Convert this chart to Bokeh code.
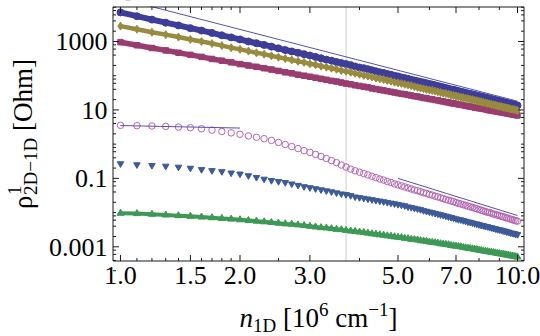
import numpy as np
from bokeh.plotting import figure
from bokeh.models import Range1d
from bokeh.core.properties import value
from bokeh.embed import file_html
from bokeh.resources import INLINE

# ---------------------------------------------------------------- data
# 1D carrier density n_1D in units of 1e6 cm^-1
n1d = [1.0, 1.1, 1.2, 1.3, 1.4, 1.5, 1.6, 1.7, 1.8, 1.9,
       2.0, 2.1, 2.2, 2.3, 2.4, 2.5, 2.6, 2.7, 2.8, 2.9,
       3.0, 3.1, 3.2, 3.3, 3.4, 3.5, 3.6, 3.7, 3.8, 3.9,
       4.0, 4.1, 4.2, 4.3, 4.4, 4.5, 4.6, 4.7, 4.8, 4.9,
       5.0, 5.1, 5.2, 5.3, 5.4, 5.5, 5.6, 5.7, 5.8, 5.9,
       6.0, 6.1, 6.2, 6.3, 6.4, 6.5, 6.6, 6.7, 6.8, 6.9,
       7.0, 7.1, 7.2, 7.3, 7.4, 7.5, 7.6, 7.7, 7.8, 7.9,
       8.0, 8.1, 8.2, 8.3, 8.4, 8.5, 8.6, 8.7, 8.8, 8.9,
       9.0, 9.1, 9.2, 9.3, 9.4, 9.5, 9.6, 9.7, 9.8, 9.9,
       10.0]

# log10 of rho^1_{2D-1D} [Ohm], one list per curve
log_rho_circle = [3.85, 3.74, 3.64, 3.55, 3.47, 3.39, 3.32, 3.25, 3.18, 3.12,
                  3.06, 3.00, 2.95, 2.90, 2.85, 2.80, 2.75, 2.71, 2.67, 2.63,
                  2.59, 2.55, 2.51, 2.47, 2.44, 2.40, 2.37, 2.34, 2.31, 2.27,
                  2.24, 2.22, 2.19, 2.16, 2.13, 2.10, 2.08, 2.05, 2.03, 2.00,
                  1.98, 1.95, 1.93, 1.91, 1.88, 1.86, 1.84, 1.82, 1.80, 1.78,
                  1.76, 1.74, 1.72, 1.70, 1.68, 1.66, 1.64, 1.62, 1.60, 1.59,
                  1.57, 1.55, 1.53, 1.52, 1.50, 1.48, 1.47, 1.45, 1.44, 1.42,
                  1.41, 1.39, 1.38, 1.36, 1.35, 1.33, 1.32, 1.30, 1.29, 1.27,
                  1.26, 1.25, 1.23, 1.22, 1.21, 1.19, 1.18, 1.17, 1.16, 1.14,
                  1.13]

log_rho_square = [2.98, 2.89, 2.81, 2.74, 2.67, 2.61, 2.55, 2.49, 2.44, 2.39,
                  2.34, 2.30, 2.26, 2.22, 2.18, 2.14, 2.10, 2.07, 2.03, 2.00,
                  1.97, 1.94, 1.91, 1.88, 1.85, 1.83, 1.80, 1.77, 1.75, 1.72,
                  1.70, 1.68, 1.66, 1.63, 1.61, 1.59, 1.57, 1.55, 1.53, 1.51,
                  1.49, 1.47, 1.46, 1.44, 1.42, 1.40, 1.39, 1.37, 1.35, 1.34,
                  1.32, 1.31, 1.29, 1.28, 1.26, 1.25, 1.23, 1.22, 1.20, 1.19,
                  1.18, 1.16, 1.15, 1.14, 1.12, 1.11, 1.10, 1.09, 1.07, 1.06,
                  1.05, 1.04, 1.03, 1.02, 1.00, 0.99, 0.98, 0.97, 0.96, 0.95,
                  0.94, 0.93, 0.92, 0.91, 0.90, 0.89, 0.88, 0.87, 0.86, 0.85,
                  0.84]

log_rho_diamond = [3.45, 3.36, 3.27, 3.20, 3.13, 3.06, 3.00, 2.94, 2.88, 2.82,
                   2.77, 2.72, 2.67, 2.63, 2.58, 2.54, 2.50, 2.46, 2.42, 2.39,
                   2.35, 2.32, 2.28, 2.25, 2.22, 2.19, 2.15, 2.13, 2.10, 2.07,
                   2.04, 2.01, 1.99, 1.96, 1.93, 1.91, 1.89, 1.86, 1.84, 1.81,
                   1.79, 1.77, 1.75, 1.73, 1.71, 1.68, 1.66, 1.64, 1.62, 1.60,
                   1.58, 1.57, 1.55, 1.53, 1.51, 1.49, 1.48, 1.46, 1.44, 1.42,
                   1.41, 1.39, 1.37, 1.36, 1.34, 1.33, 1.31, 1.30, 1.28, 1.27,
                   1.25, 1.24, 1.22, 1.21, 1.19, 1.18, 1.16, 1.15, 1.14, 1.12,
                   1.11, 1.10, 1.08, 1.07, 1.06, 1.05, 1.03, 1.02, 1.01, 1.00,
                   0.98]

log_rho_tri_up = [-2.02, -2.03, -2.05, -2.07, -2.09, -2.11, -2.13, -2.15, -2.17, -2.19,
                  -2.21, -2.23, -2.25, -2.27, -2.29, -2.31, -2.33, -2.34, -2.36, -2.38,
                  -2.40, -2.42, -2.44, -2.45, -2.47, -2.49, -2.50, -2.52, -2.54, -2.55,
                  -2.57, -2.58, -2.60, -2.62, -2.63, -2.65, -2.66, -2.68, -2.69, -2.71,
                  -2.72, -2.73, -2.75, -2.76, -2.78, -2.79, -2.80, -2.82, -2.83, -2.84,
                  -2.86, -2.87, -2.88, -2.89, -2.91, -2.92, -2.93, -2.94, -2.96, -2.97,
                  -2.98, -2.99, -3.00, -3.02, -3.03, -3.04, -3.05, -3.06, -3.07, -3.08,
                  -3.10, -3.11, -3.12, -3.13, -3.14, -3.15, -3.16, -3.17, -3.18, -3.19,
                  -3.20, -3.21, -3.22, -3.23, -3.24, -3.25, -3.26, -3.27, -3.28, -3.29,
                  -3.30]

log_rho_tri_down = [-0.57, -0.60, -0.62, -0.64, -0.67, -0.70, -0.74, -0.77, -0.80, -0.84,
                    -0.87, -0.92, -0.97, -1.02, -1.06, -1.09, -1.12, -1.16, -1.20, -1.24,
                    -1.27, -1.30, -1.33, -1.36, -1.39, -1.42, -1.45, -1.47, -1.50, -1.54,
                    -1.56, -1.58, -1.60, -1.62, -1.64, -1.66, -1.68, -1.70, -1.72, -1.74,
                    -1.76, -1.78, -1.80, -1.83, -1.85, -1.87, -1.89, -1.91, -1.94, -1.96,
                    -1.98, -2.00, -2.02, -2.04, -2.06, -2.08, -2.10, -2.12, -2.14, -2.16,
                    -2.18, -2.20, -2.21, -2.23, -2.25, -2.27, -2.28, -2.30, -2.32, -2.33,
                    -2.35, -2.37, -2.38, -2.40, -2.41, -2.43, -2.44, -2.46, -2.47, -2.49,
                    -2.50, -2.51, -2.53, -2.54, -2.56, -2.57, -2.59, -2.60, -2.61, -2.63,
                    -2.64]

log_rho_open = [0.55, 0.54, 0.53, 0.52, 0.50, 0.48, 0.45, 0.41, 0.37, 0.33,
                0.29, 0.24, 0.20, 0.16, 0.11, 0.05, -0.01, -0.07, -0.13, -0.19,
                -0.24, -0.30, -0.36, -0.42, -0.48, -0.54, -0.61, -0.67, -0.73, -0.78,
                -0.82, -0.86, -0.90, -0.94, -0.98, -1.02, -1.05, -1.09, -1.12, -1.16,
                -1.19, -1.22, -1.25, -1.28, -1.31, -1.34, -1.36, -1.39, -1.42, -1.44,
                -1.47, -1.49, -1.52, -1.54, -1.57, -1.59, -1.62, -1.64, -1.66, -1.68,
                -1.71, -1.73, -1.75, -1.77, -1.79, -1.81, -1.83, -1.85, -1.87, -1.89,
                -1.91, -1.93, -1.95, -1.97, -1.99, -2.00, -2.02, -2.04, -2.06, -2.07,
                -2.09, -2.11, -2.12, -2.14, -2.16, -2.17, -2.19, -2.21, -2.22, -2.24,
                -2.25]

# straight guide lines (end points) and the marked density
guide_high_x = [1.0, 10.0]
guide_high_y = [18000.0, 18.0]
guide_flat_x = [1.0, 2.0]
guide_flat_y = [3.5, 2.95]
guide_tail_x = [5.0, 10.0]
guide_tail_y = [0.1, 0.0082]
marked_n1d = 3.7

# ticks
x_major = [1.0, 1.5, 2.0, 3.0, 5.0, 7.0, 10.0]
x_major_labels = ["1.0", "1.5", "2.0", "3.0", "5.0", "7.0", "10.0"]
x_minor = [1.1, 1.2, 1.3, 1.4, 1.6, 1.7, 1.8, 1.9, 2.5, 4.0, 6.0, 8.0, 9.0]
y_major = [0.001, 0.1, 10.0, 1000.0]
y_major_labels = ["0.001", "0.1", "10", "1000"]
y_minor = [0.01, 1.0, 100.0, 10000.0] + [m * 10.0 ** e for e in range(-4, 4) for m in (2, 4, 6, 8)]

# ---------------------------------------------------------------- geometry
W, H = 540, 336
FL, FT, FW, FH = 112, 6, 412, 255          # plotting frame inside the canvas
FR, FB = FL + FW, FT + FH
X_LO, X_HI = 0.9547, 10.414
Y_LO, Y_HI = 3.72e-4, 1.054e4
LX0, LX1 = np.log10(X_LO), np.log10(X_HI)
LY0, LY1 = np.log10(Y_LO), np.log10(Y_HI)
# text glyphs sit with their baseline this fraction of the font size below the anchor
BASE_SHIFT = 0.33


def data_x(sx):
    return float(10 ** (LX0 + (sx - FL) / FW * (LX1 - LX0)))


def data_y(sy):
    return float(10 ** (LY1 - (sy - FT) / FH * (LY1 - LY0)))


def px_y(v):
    return FT + (LY1 - np.log10(v)) / (LY1 - LY0) * FH


SERIF = "Liberation Serif"
C_CIRCLE = "#3e3d99"
C_SQUARE = "#993d71"
C_DIAMOND = "#998b3d"
C_TRI_UP = "#3d9955"
C_TRI_DOWN = "#3d5a99"
C_OPEN = "#b465b2"
C_GUIDE = "#5252b4"
C_AXIS = "#1a1a1a"

# the canvas itself is the data area; the frame and its ticks are drawn inside it
p = figure(width=W, height=H, x_axis_type="log", y_axis_type="log",
           x_range=Range1d(data_x(0), data_x(W)), y_range=Range1d(data_y(H), data_y(0)),
           x_axis_location=None, y_axis_location=None,
           min_border=0, output_backend="svg", toolbar_location=None)
p.background_fill_color = "white"
p.border_fill_color = "white"
p.outline_line_color = None
p.grid.visible = False

# vertical marker behind the data
p.segment(x0=[marked_n1d], y0=[data_y(FB)], x1=[marked_n1d], y1=[data_y(FT)],
          line_color="#cdcdcd", line_width=1)

x = np.array(n1d)


def rho(logs):
    return 10.0 ** np.asarray(logs)


# dense curves: a thick band plus the markers on it
p.line(x, rho(log_rho_circle), line_color=C_CIRCLE, line_width=6)
p.scatter(x, rho(log_rho_circle), marker="circle", size=7,
          fill_color=C_CIRCLE, line_color=C_CIRCLE)

p.line(x, rho(log_rho_square), line_color=C_SQUARE, line_width=5.5)
p.scatter(x, rho(log_rho_square), marker="square", size=5.5,
          fill_color=C_SQUARE, line_color=C_SQUARE)

p.line(x, rho(log_rho_diamond), line_color=C_DIAMOND, line_width=4.5)
p.scatter(x, rho(log_rho_diamond), marker="diamond", size=8,
          fill_color=C_DIAMOND, line_color=C_DIAMOND)

p.line(x, rho(log_rho_tri_up), line_color=C_TRI_UP, line_width=4)
p.scatter(x, rho(log_rho_tri_up), marker="triangle", size=7,
          fill_color=C_TRI_UP, line_color=C_TRI_UP)

p.scatter(x, rho(log_rho_tri_down), marker="inverted_triangle", size=6.5,
          fill_color=C_TRI_DOWN, line_color=C_TRI_DOWN)

p.scatter(x, rho(log_rho_open), marker="circle", size=6.5,
          fill_color=None, line_color=C_OPEN, line_width=1)

# power-law guides
for gx, gy in ((guide_high_x, guide_high_y), (guide_flat_x, guide_flat_y),
               (guide_tail_x, guide_tail_y)):
    p.line(gx, gy, line_color=C_GUIDE, line_width=1)

# keep the margins clean: white mask around the frame
p.quad(left=[data_x(0), data_x(0), data_x(0), data_x(FR)],
       right=[data_x(W), data_x(W), data_x(FL), data_x(W)],
       top=[data_y(0), data_y(FB), data_y(0), data_y(0)],
       bottom=[data_y(FT), data_y(H), data_y(H), data_y(H)],
       fill_color="white", line_color=None)

# frame
fl, fr, ft, fb = data_x(FL + 0.5), data_x(FR - 0.5), data_y(FT + 0.5), data_y(FB - 0.5)
p.line([fl, fr, fr, fl, fl], [fb, fb, ft, ft, fb], line_color=C_AXIS, line_width=1)

# ticks on all four sides, pointing inwards
MAJ, MIN = 6, 3
for ticks, ln in ((x_major, MAJ), (x_minor, MIN)):
    n = len(ticks)
    p.segment(x0=ticks, y0=[fb] * n, x1=ticks, y1=[data_y(FB - 0.5 - ln)] * n,
              line_color=C_AXIS, line_width=1)
    p.segment(x0=ticks, y0=[ft] * n, x1=ticks, y1=[data_y(FT + 0.5 + ln)] * n,
              line_color=C_AXIS, line_width=1)
for ticks, ln in ((y_major, MAJ), (y_minor, MIN)):
    n = len(ticks)
    p.segment(x0=[fl] * n, y0=ticks, x1=[data_x(FL + 0.5 + ln)] * n, y1=ticks,
              line_color=C_AXIS, line_width=1)
    p.segment(x0=[fr] * n, y0=ticks, x1=[data_x(FR - 0.5 - ln)] * n, y1=ticks,
              line_color=C_AXIS, line_width=1)

# tick labels
TICK = 26
p.text(x=x_major, y=[data_y(284 - BASE_SHIFT * TICK)] * len(x_major), text=x_major_labels,
       text_font=value(SERIF), text_font_size=value(f"{TICK}px"), text_color="black",
       text_align="center", text_baseline="alphabetic")
p.text(x=[data_x(FL - 5)] * len(y_major),
       y=[data_y(px_y(v) + 8.8 - BASE_SHIFT * TICK) for v in y_major],
       text=y_major_labels, text_font=value(SERIF), text_font_size=value(f"{TICK}px"),
       text_color="black", text_align="right", text_baseline="alphabetic")

# ---------------------------------------------------------------- axis titles
ADV = {"n": 0.5, "1": 0.5, "2": 0.5, "6": 0.5, "0": 0.5, "D": 0.722, " ": 0.25,
       "[": 0.333, "]": 0.333, "c": 0.444, "m": 0.778, "\u2212": 0.564,
       "\u03c1": 0.52, "O": 0.722, "h": 0.5}


def text_width(s, size):
    return sum(ADV[ch] for ch in s) * size


def put(text, sx, sy, size, angle=0.0, style="normal"):
    # (sx, sy) is the wanted start of the baseline
    if angle == 0.0:
        ax, ay = sx, sy - BASE_SHIFT * size
    else:
        ax, ay = sx - BASE_SHIFT * size, sy
    p.text(x=[data_x(ax)], y=[data_y(ay)], text=[text.strip()], angle=angle,
           text_font=value(SERIF), text_font_size=value(f"{size}px"),
           text_font_style=style, text_color="black",
           text_align="left", text_baseline="alphabetic")


MAIN, SCRIPT = 27, 19
SUB_DROP, SUP_RISE = 5, 11
SPACE = ADV[" "] * MAIN

# x title: n_1D [10^6 cm^-1]
x_parts = [("n", MAIN, 0, "italic"), ("1D", SCRIPT, SUB_DROP, "normal"),
           (" [10", MAIN, 0, "normal"), ("6", SCRIPT, -SUP_RISE, "normal"),
           (" cm", MAIN, 0, "normal"), ("\u22121", SCRIPT, -SUP_RISE, "normal"),
           ("]", MAIN, 0, "normal")]
x_total = sum(text_width(t, s) for t, s, _, _ in x_parts)
cx = FL + FW / 2 - x_total / 2
x_base = 326
for t, s, dy, st in x_parts:
    lead = SPACE if t.startswith(" ") else 0.0
    put(t, cx + lead, x_base + dy, s, style=st)
    cx += text_width(t, s)

# y title: rho^1_{2D-1D} [Ohm], rotated to read upwards
y_base = 31
rho_w = text_width("\u03c1", MAIN)
sub_w = text_width("2D\u22121D", SCRIPT)
tail_w = text_width(" [Ohm]", MAIN)
y_total = rho_w + sub_w + tail_w
cy = FT + FH / 2 + y_total / 2
put("\u03c1", y_base, cy, MAIN, angle=np.pi / 2)
cy -= rho_w
put("1", y_base - SUP_RISE, cy, SCRIPT, angle=np.pi / 2)
put("2D\u22121D", y_base + SUB_DROP, cy, SCRIPT, angle=np.pi / 2)
cy -= sub_w
put("[Ohm]", y_base, cy - SPACE, MAIN, angle=np.pi / 2)

open("out.html", "w").write(file_html(p, INLINE))
